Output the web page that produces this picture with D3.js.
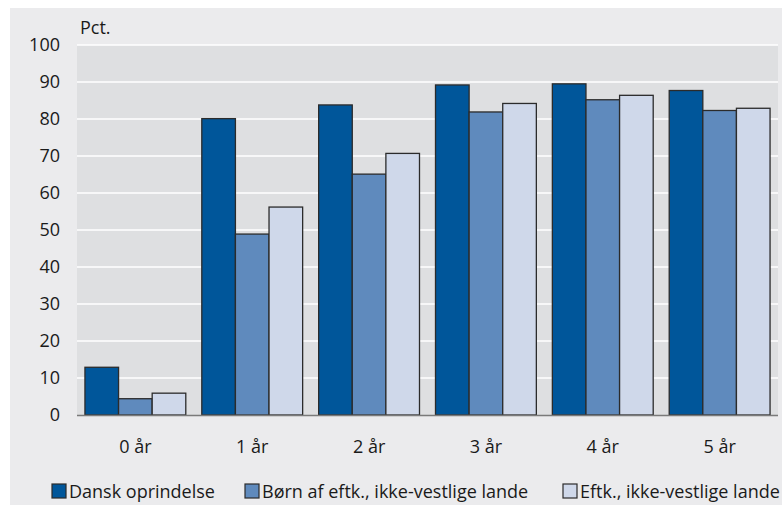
<!DOCTYPE html>
<html><head><meta charset="utf-8">
<script src="https://cdn.jsdelivr.net/npm/d3@7"></script>
<style>
html,body{margin:0;padding:0;background:#fff;}
svg text{font-family:"Liberation Sans Narrow","Open Sans",sans-serif;fill:#1a1a1a;}
</style></head>
<body><svg id="c" width="782" height="506"></svg>
<script>
const categories = ["0 år","1 år","2 år","3 år","4 år","5 år"];
const seriesNames = ["Dansk oprindelse","Børn af eftk., ikke-vestlige lande","Eftk., ikke-vestlige lande"];
const dansk = [12.9, 80.1, 83.8, 89.2, 89.5, 87.7];
const boern = [4.4, 48.9, 65.1, 81.9, 85.2, 82.3];
const eftk = [5.9, 56.2, 70.7, 84.2, 86.4, 82.9];
const yTicks = [0,10,20,30,40,50,60,70,80,90,100];
const colors = ["#00569a","#5f8abd","#cfd8ea"];
const yLabel = "Pct.";

const series = [dansk, boern, eftk];
const svg = d3.select("#c");
svg.append("rect").attr("x",10).attr("y",8).attr("width",772).attr("height",497).attr("fill","#ebebed");

const L=77, R=778, T=45, B=415;
svg.append("rect").attr("x",L).attr("y",T).attr("width",R-L).attr("height",B-T).attr("fill","#dedfe1");

const x0 = d3.scaleBand().domain(categories).range([L,R]).paddingInner(0.137).paddingOuter(0.068);
const x1 = d3.scaleBand().domain(d3.range(3)).range([0,x0.bandwidth()]);
const y = d3.scaleLinear().domain([0,100]).range([B,T]);

svg.append("g").selectAll("line").data(yTicks.filter(d=>d>0)).join("line")
  .attr("x1",L).attr("x2",R).attr("y1",d=>y(d)).attr("y2",d=>y(d))
  .attr("stroke","#ffffff").attr("stroke-width",1.5);

const yAxis = svg.append("g").attr("transform",`translate(${L},0)`)
  .call(d3.axisLeft(y).tickValues(yTicks).tickSize(0).tickPadding(17));
yAxis.select(".domain").remove();
yAxis.selectAll("text").attr("font-size",18).attr("font-family",null);

const groups = svg.append("g").selectAll("g").data(categories).join("g")
  .attr("transform",d=>`translate(${x0(d)},0)`);
groups.selectAll("rect").data((d,i)=>series.map((s,j)=>({j,v:s[i]}))).join("rect")
  .attr("x",d=>x1(d.j)).attr("width",x1.bandwidth())
  .attr("y",d=>y(d.v)).attr("height",d=>B-y(d.v))
  .attr("fill",d=>colors[d.j]).attr("stroke","#2b2b2b").attr("stroke-width",1.3);

svg.append("line").attr("x1",L).attr("x2",R).attr("y1",B+0.5).attr("y2",B+0.5).attr("stroke","#7a7a7a").attr("stroke-width",1.5);

const xAxis = svg.append("g").attr("transform",`translate(0,${B})`)
  .call(d3.axisBottom(x0).tickSize(0).tickPadding(25));
xAxis.select(".domain").remove();
xAxis.selectAll("text").attr("font-size",18).attr("font-family",null);

svg.append("text").attr("x",80).attr("y",34).attr("font-size",18).text(yLabel);

const legX = [52, 245, 563];
const leg = svg.append("g").selectAll("g").data(seriesNames).join("g")
  .attr("transform",(d,i)=>`translate(${legX[i]},484)`);
leg.append("rect").attr("x",0).attr("y",0).attr("width",14).attr("height",14)
  .attr("fill",(d,i)=>colors[i]).attr("stroke","#2b2b2b").attr("stroke-width",1.2);
leg.append("text").attr("x",17).attr("y",14).attr("font-size",18).text(d=>d);
</script></body></html>
